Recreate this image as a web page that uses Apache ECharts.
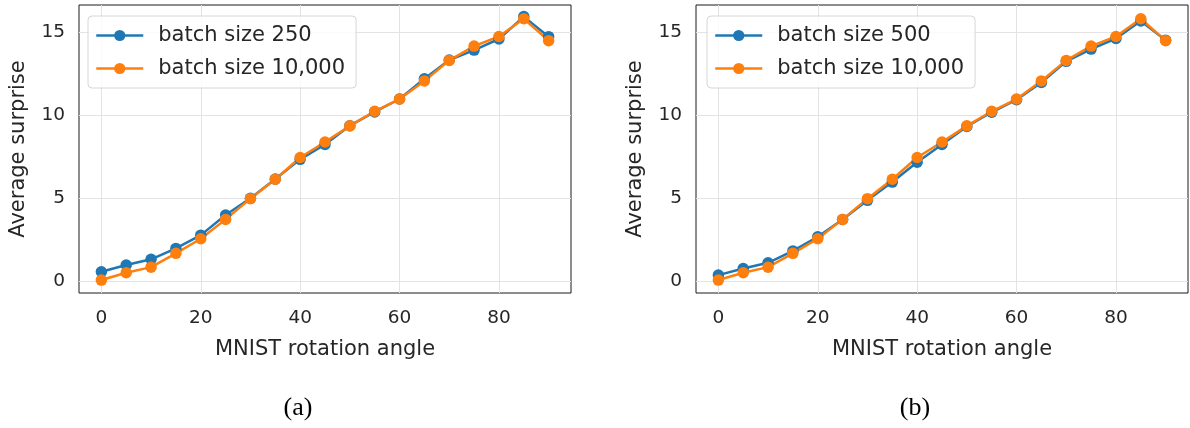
<!DOCTYPE html>
<html>
<head>
<meta charset="utf-8">
<script src="https://cdn.jsdelivr.net/npm/echarts@6/dist/echarts.min.js"></script>
<style>
  html, body { margin: 0; padding: 0; background: #fff; }
  #chart { width: 1190px; height: 428px; }
</style>
</head>
<body>
<div id="chart"></div>
<script>
// Rotation angles (degrees)
const angles = [0, 5, 10, 15, 20, 25, 30, 35, 40, 45, 50, 55, 60, 65, 70, 75, 80, 85, 90];

// Average surprise per angle for each batch size
const batch250 = [0.56, 0.97, 1.31, 1.97, 2.77, 3.98, 4.99, 6.15, 7.34, 8.24, 9.37, 10.20, 10.98, 12.20, 13.33, 13.93, 14.60, 15.95, 14.74];
const batch500 = [0.36, 0.76, 1.10, 1.82, 2.67, 3.71, 4.87, 5.97, 7.17, 8.24, 9.32, 10.18, 10.94, 11.98, 13.25, 13.99, 14.63, 15.69, 14.53];
const batch10000 = [0.06, 0.50, 0.84, 1.67, 2.55, 3.72, 4.97, 6.14, 7.45, 8.39, 9.36, 10.24, 10.98, 12.07, 13.31, 14.17, 14.75, 15.82, 14.50];

// Tick labels
const xTicks = [0, 20, 40, 60, 80];
const yTicks = [0, 5, 10, 15];

const BLUE = '#1f77b4';
const ORANGE = '#ff7f0e';
const FONT = 'DejaVu Sans';
const TEXT = '#262626';

const pairs = (ys) => angles.map((a, i) => [a, ys[i]]);

function xAxis(gridIndex) {
  return {
    type: 'value', gridIndex, min: -4.5, max: 94.5,
    name: 'MNIST rotation angle', nameLocation: 'middle', nameGap: 46,
    nameTextStyle: { fontFamily: FONT, fontSize: 21, color: TEXT },
    axisLine: { show: false },
    axisTick: { show: true, length: 6, customValues: xTicks, lineStyle: { color: TEXT, width: 1 } },
    axisLabel: { customValues: xTicks, margin: 16, fontFamily: FONT, fontSize: 18.5, color: TEXT },
    splitLine: { show: false }
  };
}

function yAxis(gridIndex) {
  return {
    type: 'value', gridIndex, min: -0.72, max: 16.65,
    name: 'Average surprise', nameLocation: 'middle', nameGap: 50,
    nameTextStyle: { fontFamily: FONT, fontSize: 21, color: TEXT },
    axisLine: { show: false },
    axisTick: { show: true, length: 6, customValues: yTicks, lineStyle: { color: TEXT, width: 1 } },
    axisLabel: { customValues: yTicks, margin: 14, fontFamily: FONT, fontSize: 18.5, color: TEXT },
    splitLine: { show: false }
  };
}

function gridLines() {
  return {
    silent: true, symbol: 'none', z: 1, animation: false,
    label: { show: false },
    lineStyle: { color: '#e3e3e3', width: 1, type: 'solid' },
    emphasis: { disabled: true },
    data: yTicks.map(v => ({ yAxis: v })).concat(xTicks.map(v => ({ xAxis: v })))
  };
}

function lineSeries(name, ys, color, idx, withGrid) {
  const s = {
    name, type: 'line', xAxisIndex: idx, yAxisIndex: idx,
    data: pairs(ys), symbol: 'circle', symbolSize: 11.5, showAllSymbol: true,
    lineStyle: { color, width: 2.5 }, itemStyle: { color },
    z: 2
  };
  if (withGrid) s.markLine = gridLines();
  return s;
}

function legend(left, names) {
  return {
    left, top: 16, orient: 'vertical', data: names,
    itemWidth: 47, itemHeight: 14, itemGap: 10,
    padding: [8, 11, 8, 7],
    backgroundColor: 'rgba(255,255,255,0.8)',
    borderColor: '#d6d6d6', borderWidth: 1, borderRadius: 4,
    lineStyle: { width: 2.5 },
    textStyle: { fontFamily: FONT, fontSize: 21, color: TEXT, lineHeight: 23, padding: [0, 0, 0, 10] }
  };
}

const captionStyle = { fontFamily: 'Liberation Serif', fontSize: 26, fontWeight: 'normal', color: '#000' };

const chart = echarts.init(document.getElementById('chart'), null, { renderer: 'canvas' });
chart.setOption({
  animation: false,
  backgroundColor: '#fff',
  grid: [
    { left: 79, right: 619, top: 5, bottom: 135, show: true, borderColor: '#1a1a1a', borderWidth: 1, backgroundColor: '#fff' },
    { left: 696, right: 2, top: 5, bottom: 135, show: true, borderColor: '#1a1a1a', borderWidth: 1, backgroundColor: '#fff' }
  ],
  xAxis: [xAxis(0), xAxis(1)],
  yAxis: [yAxis(0), yAxis(1)],
  legend: [
    legend(88, ['batch size 250', 'batch size 10,000']),
    legend(707, ['batch size 500', 'batch size 10,000'])
  ],
  title: [
    { text: '(a)', left: 293, top: 390, textAlign: 'center', textStyle: captionStyle },
    { text: '(b)', left: 910, top: 390, textAlign: 'center', textStyle: captionStyle }
  ],
  series: [
    lineSeries('batch size 250', batch250, BLUE, 0, true),
    lineSeries('batch size 10,000', batch10000, ORANGE, 0, false),
    lineSeries('batch size 500', batch500, BLUE, 1, true),
    lineSeries('batch size 10,000', batch10000, ORANGE, 1, false)
  ]
});
</script>
</body>
</html>
